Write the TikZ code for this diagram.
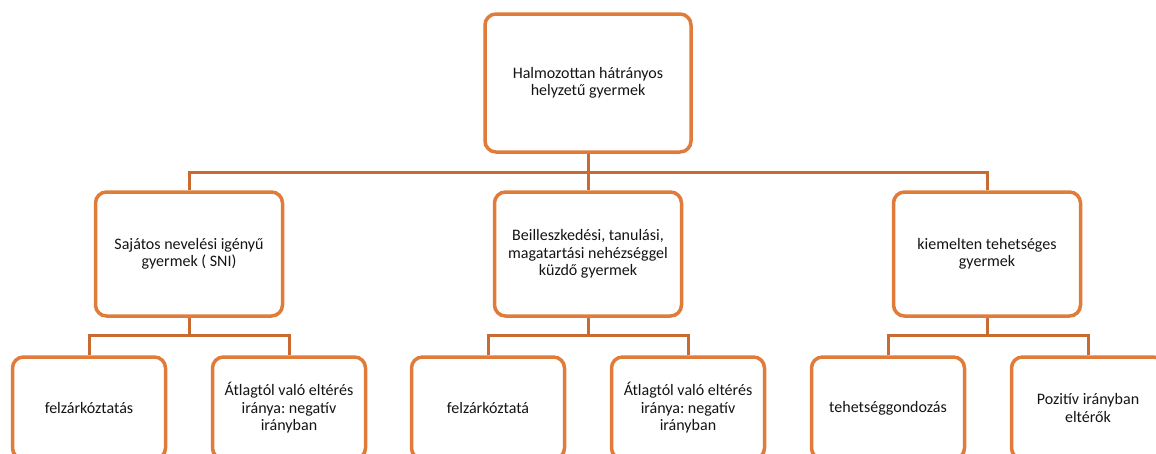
\documentclass[tikz,border=0pt]{standalone}
\usepackage{fontspec}
\setmainfont{Carlito}
\usepackage{tikz}
\usetikzlibrary{positioning}
\definecolor{boxorange}{HTML}{E07B39}
\definecolor{lineorange}{HTML}{C96A30}
\definecolor{textgray}{HTML}{141414}
\frenchspacing

\begin{document}
\begin{tikzpicture}[x=1pt,y=-1pt]
\fontsize{16}{17.5}\selectfont
\tikzstyle{box}=[draw=boxorange,line width=3.5pt,rounded corners=11pt,fill=white,
  text=textgray,align=center,inner sep=0pt];
\tikzstyle{topbox}=[box,minimum width=206pt,minimum height=138pt];
\tikzstyle{midbox}=[box,minimum width=187pt,minimum height=124pt];
\tikzstyle{leafbox}=[box,minimum width=153pt,minimum height=102pt];
\tikzstyle{link}=[draw=lineorange,line width=3pt];
\useasboundingbox (0,0) rectangle (1156,453);
\clip (0,0) rectangle (1156,453);
% levels
\node[topbox] (hh) at (588,83) {Halmozottan hátrányos\\helyzetű gyermek};
\node[midbox] (sni) at (189,254) {Sajátos nevelési igényű\\gyermek ( SNI)};
\node[midbox] (btm) at (588,254) {Beilleszkedési, tanulási,\\magatartási nehézséggel\\küzdő gyermek};
\node[midbox] (kt) at (987,254) {kiemelten tehetséges\\gyermek};
\node[leafbox] (sni1) at (89,408) {felzárkóztatás};
\node[leafbox] (sni2) at (289,408) {Átlagtól való eltérés\\iránya: negatív\\irányban};
\node[leafbox] (btm1) at (488,408) {felzárkóztatá};
\node[leafbox] (btm2) at (688,408) {Átlagtól való eltérés\\iránya: negatív\\irányban};
\node[leafbox] (kt1) at (888,408) {tehetséggondozás};
\node[leafbox] (kt2) at (1088,408) {Pozitív irányban\\eltérők};
% connectors
\coordinate (b0) at (588,172);
\coordinate (b1) at (189,335);
\coordinate (b2) at (588,335);
\coordinate (b3) at (987,335);
\draw[link] (hh.south) -- (b0);
\draw[link] (b0) -| (sni.north);
\draw[link] (b0) -- (btm.north);
\draw[link] (b0) -| (kt.north);
\draw[link] (sni.south) -- (b1);
\draw[link] (b1) -| (sni1.north);
\draw[link] (b1) -| (sni2.north);
\draw[link] (btm.south) -- (b2);
\draw[link] (b2) -| (btm1.north);
\draw[link] (b2) -| (btm2.north);
\draw[link] (kt.south) -- (b3);
\draw[link] (b3) -| (kt1.north);
\draw[link] (b3) -| (kt2.north);
\end{tikzpicture}
\end{document}
